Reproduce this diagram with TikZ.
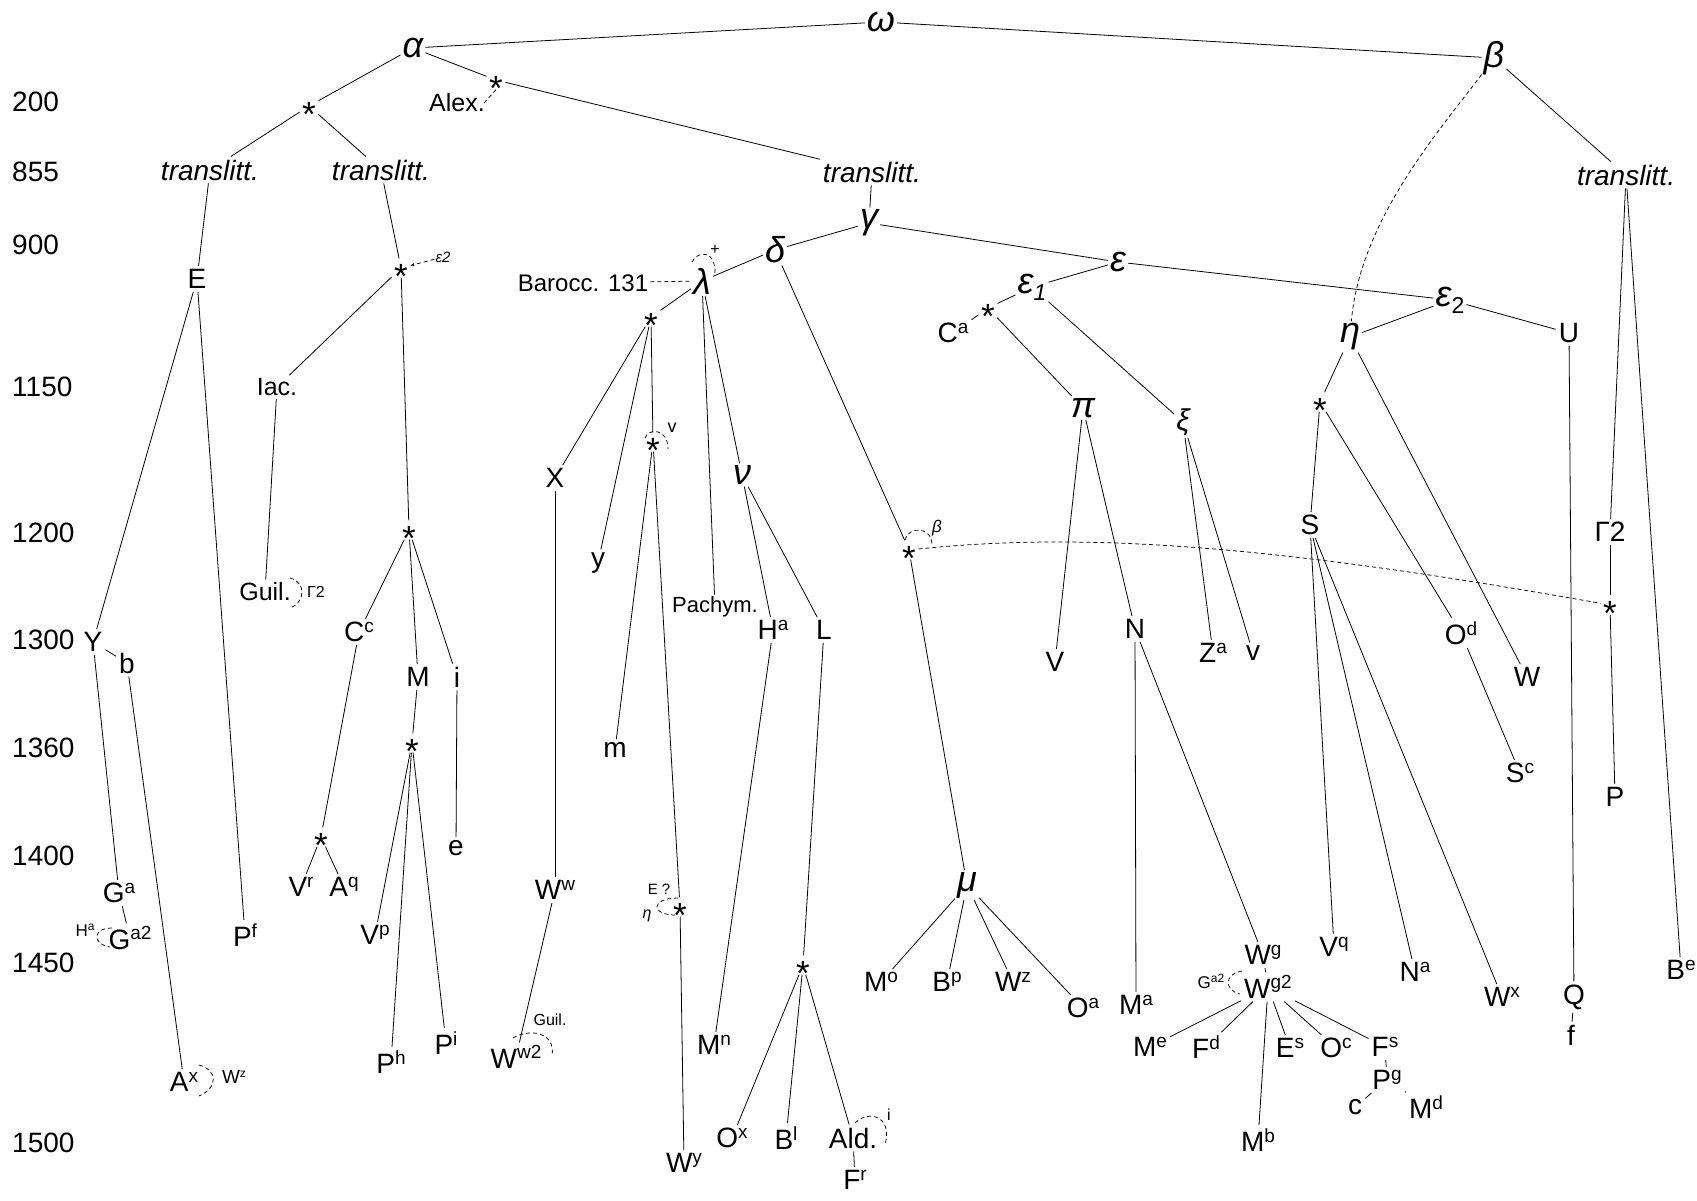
\documentclass[tikz,border=0pt]{standalone}
\usepackage{fontspec}
\setmainfont{Liberation Sans}
\usetikzlibrary{arrows.meta}
\newcommand{\SU}[1]{\raisebox{9.5pt}{\fontsize{19}{19}\selectfont #1}}
\newcommand{\SSU}[1]{\raisebox{6pt}{\fontsize{12}{12}\selectfont #1}}
\newcommand{\SB}[1]{\raisebox{-7pt}{\fontsize{23}{23}\selectfont #1}}
\newcommand{\STAR}{\raisebox{-20pt}{*}}
\tikzset{
 lab/.style={font=\fontsize{28}{30}\selectfont, inner sep=3pt},
 mid/.style={font=\fontsize{25}{27}\selectfont, inner sep=3pt},
 gr/.style={font=\fontsize{36}{38}\selectfont\itshape, inner sep=2pt},
 tl/.style={font=\fontsize{28}{30}\selectfont\itshape, inner sep=3pt},
 st/.style={font=\fontsize{35}{35}\selectfont, text height=7pt, text depth=7pt, inner sep=2.5pt},
 sm/.style={font=\fontsize{16}{16}\selectfont, inner sep=1pt},
 yr/.style={font=\fontsize{28}{30}\selectfont, anchor=west, inner sep=0pt},
 ln/.style={line width=0.8pt},
 dl/.style={line width=0.75pt, dash pattern=on 4pt off 3pt},
}
\begin{document}
\begin{tikzpicture}[x=1pt,y=-1pt]
\useasboundingbox (0,0) rectangle (1697,1200);
% years
\node[yr] (y200) at (12,102) {200};
\node[yr] (y855) at (12,172) {855};
\node[yr] (y900) at (12,245) {900};
\node[yr] (y1150) at (12,387) {1150};
\node[yr] (y1200) at (12,533) {1200};
\node[yr] (y1300) at (12,640) {1300};
\node[yr] (y1360) at (12,748) {1360};
\node[yr] (y1400) at (12,856) {1400};
\node[yr] (y1450) at (12,963) {1450};
\node[yr] (y1500) at (12,1143) {1500};
% top
\node[gr] (omega) at (881,22) {ω};
\node[gr] (alpha) at (413,48) {α};
\node[gr] (beta) at (1494,58) {β};
\node[st] (s1) at (309,106) {\STAR};
\node[mid] (alex) at (457,103) {Alex.};
\node[st] (s2) at (496,80) {\STAR};
\node[tl] (tr1) at (210,170) {translitt.};
\node[tl] (tr2) at (381,170) {translitt.};
\node[tl] (tr3) at (872,172) {translitt.};
\node[tl] (tr4) at (1626,175) {translitt.};
% left branch
\node[lab] (E) at (197,279) {E};
\node[st] (s3) at (401,268) {\STAR};
\node[sm,font=\fontsize{15}{15}\selectfont\itshape] (leps2) at (443,257) {ε2};
\node[mid] (iac) at (277,387) {Iac.};
\node[mid] (guil) at (265,592) {Guil.};
\node[sm] (lgam2) at (316,592) {Γ2};
\node[lab] (Y) at (93,642) {Y};
\node[lab] (b) at (127,663) {b};
\node[lab] (Pf) at (245,935) {P\SU{f}};
\node[lab] (Ga) at (119,893) {G\SU{a}};
\node[lab] (Ga2) at (130,938) {G\SU{a2}};
\node[sm,font=\fontsize{17}{17}\selectfont] (lHa) at (85,930) {H\SSU{a}};
\node[lab] (Ax) at (184,1082) {A\SU{x}};
\node[sm,font=\fontsize{19}{19}\selectfont] (lWz) at (234,1077) {W\SSU{z}};
\node[st] (s4) at (409,530) {\STAR};
\node[lab] (Cc) at (359,632) {C\SU{c}};
\node[lab] (M) at (418,677) {M};
\node[lab] (i) at (457,677) {i};
\node[st] (s5) at (412,743) {\STAR};
\node[lab] (e) at (456,848) {e};
\node[st] (s6) at (321,837) {\STAR};
\node[lab] (Vr) at (301,887) {V\SU{r}};
\node[lab] (Aq) at (344,887) {A\SU{q}};
\node[lab] (Vp) at (375,935) {V\SU{p}};
\node[lab] (Ph) at (391,1062) {P\SU{h}};
\node[lab] (Pi) at (446,1043) {P\SU{i}};
% lambda / delta
\node[font=\fontsize{24}{26}\selectfont, inner sep=2pt] (barocc) at (583,283) {Barocc. 131};
\node[gr] (lambda) at (702,281) {λ};
\node[sm] (lplus) at (715,250) {+};
\node[gr] (delta) at (775,250) {δ};
\node[gr] (gamma) at (869,223) {γ};
\node[st] (s7) at (651,317) {\STAR};
\node[lab] (X) at (555,478) {X};
\node[lab] (y) at (598,563) {y};
\node[st] (s8) at (653,442) {\STAR};
\node[sm,font=\fontsize{18}{18}\selectfont] (lv) at (672,428) {v};
\node[lab] (m) at (615,750) {m};
\node[font=\fontsize{22}{24}\selectfont, inner sep=2pt] (pachym) at (715,607) {Pachym.};
\node[gr] (nu) at (742,475) {ν};
\node[lab] (Ha2) at (773,630) {H\SU{a}};
\node[lab] (L) at (824,630) {L};
\node[lab] (Ww) at (555,890) {W\SU{w}};
\node[lab] (Ww2) at (516,1057) {W\SU{w2}};
\node[sm] (lguil) at (550,1020) {Guil.};
\node[st] (s9) at (680,907) {\STAR};
\node[sm,font=\fontsize{15}{15}\selectfont] (lEq) at (659,889) {E ?};
\node[sm,font=\fontsize{16}{16}\selectfont\itshape] (leta) at (647,916) {η};
\node[lab] (Wy) at (684,1163) {W\SU{y}};
\node[lab] (Mn) at (714,1045) {M\SU{n}};
\node[st] (s10) at (803,965) {\STAR};
\node[lab] (Ox) at (732,1138) {O\SU{x}};
\node[lab] (Bl) at (786,1138) {B\SU{l}};
\node[lab] (ald) at (853,1138) {Ald.};
\node[sm] (li) at (889,1115) {i};
\node[lab] (Fr) at (855,1180) {F\SU{r}};
\node[st] (sb) at (909,550) {\STAR};
\node[sm,font=\fontsize{17}{17}\selectfont\itshape] (lbeta) at (937,528) {β};
\node[gr] (mu) at (967,885) {μ};
\node[lab] (Mo) at (881,982) {M\SU{o}};
\node[lab] (Bp) at (947,982) {B\SU{p}};
\node[lab] (Wz) at (1013,982) {W\SU{z}};
\node[lab] (Oa) at (1083,1008) {O\SU{a}};
% epsilon
\node[gr] (eps) at (1118,262) {ε};
\node[gr] (eps1) at (1032,287) {ε\SB{1}};
\node[st] (s11) at (988,308) {\STAR};
\node[lab] (Ca) at (953,333) {C\SU{a}};
\node[gr] (pi) at (1083,408) {π};
\node[gr,font=\fontsize{30}{32}\selectfont\itshape] (xi) at (1183,422) {ξ};
\node[lab] (V) at (1055,662) {V};
\node[lab] (N) at (1135,629) {N};
\node[lab] (Za) at (1213,653) {Z\SU{a}};
\node[lab] (v) at (1253,653) {v};
\node[lab] (Ma) at (1136,1005) {M\SU{a}};
\node[lab] (Wg) at (1263,955) {W\SU{g}};
\node[lab] (Wg2) at (1268,987) {W\SU{g2}};
\node[sm,font=\fontsize{17}{17}\selectfont] (lGa2) at (1211,981) {G\SSU{a2}};
\node[lab] (Me) at (1150,1047) {M\SU{e}};
\node[lab] (Fd) at (1206,1047) {F\SU{d}};
\node[lab] (Mb) at (1258,1140) {M\SU{b}};
\node[lab] (Es) at (1290,1048) {E\SU{s}};
\node[lab] (Oc) at (1336,1048) {O\SU{c}};
\node[lab] (Fs) at (1385,1047) {F\SU{s}};
\node[lab] (Pg) at (1387,1080) {P\SU{g}};
\node[lab] (c) at (1355,1107) {c};
\node[lab] (Md) at (1426,1107) {M\SU{d}};
\node[gr] (eps2) at (1450,300) {ε\SB{\upshape 2}};
\node[gr] (eta) at (1350,337) {η};
\node[lab] (U) at (1569,333) {U};
\node[st] (s12) at (1320,402) {\STAR};
\node[lab] (S) at (1310,525) {S};
\node[lab] (Vq) at (1334,947) {V\SU{q}};
\node[lab] (Na) at (1415,972) {N\SU{a}};
\node[lab] (Wx) at (1502,997) {W\SU{x}};
\node[lab] (Od) at (1461,633) {O\SU{d}};
\node[lab] (Sc) at (1520,773) {S\SU{c}};
\node[lab] (W) at (1527,677) {W};
\node[lab] (Q) at (1574,997) {Q};
\node[lab] (f) at (1571,1035) {f};
\node[lab] (G2) at (1610,532) {Γ2};
\node[st] (s13) at (1610,605) {\STAR};
\node[lab] (P) at (1615,797) {P};
\node[lab] (Be) at (1681,970) {B\SU{e}};
% connectors
\draw[ln] (omega) -- (alpha);
\draw[ln] (omega) -- (beta);
\draw[ln] (alpha) -- (s1);
\draw[ln] (alpha) -- (s2);
\draw[ln] (s1) -- (tr1);
\draw[ln] (s1) -- (tr2);
\draw[ln] (s2) -- (tr3);
\draw[dl] ([xshift=-4pt]alex.east) -- (s2.south);
\draw[ln] (tr1) -- (E);
\draw[ln] (tr2) -- (s3);
\draw[ln] (s3) -- (iac);
\draw[ln] (s3) -- (s4);
\draw[ln] (iac) -- (guil);
\draw[ln] (E) -- (Y);
\draw[ln] (E) -- (Pf);
\draw[ln] (Y) -- (b);
\draw[ln] (Y) -- (Ga);
\draw[ln] (b) -- (Ax);
\draw[ln] (Ga) -- (Ga2);
\draw[ln] (s4) -- (Cc);
\draw[ln] (s4) -- (M);
\draw[ln] (s4) -- (i);
\draw[ln] (Cc) -- (s6);
\draw[ln] (s6) -- (Vr);
\draw[ln] (s6) -- (Aq);
\draw[ln] (M) -- (s5);
\draw[ln] (s5) -- (Vp);
\draw[ln] (s5) -- (Ph);
\draw[ln] (s5) -- (Pi);
\draw[ln] (i) -- (e);
\draw[ln] (tr3) -- (gamma);
\draw[ln] (gamma) -- (delta);
\draw[ln] (gamma) -- (eps);
\draw[ln] (delta) -- (lambda);
\draw[ln] (delta) -- (sb);
\draw[ln] (lambda) -- (s7);
\draw[ln] (lambda) -- (pachym);
\draw[ln] (lambda) -- (nu);
\draw[dl] (barocc) -- (lambda);
\draw[ln] (s7) -- (X);
\draw[ln] (s7) -- (y);
\draw[ln] (s7) -- (s8);
\draw[ln] (s8) -- (m);
\draw[ln] (s8) -- (s9);
\draw[ln] (X) -- (Ww);
\draw[ln] (Ww) -- (Ww2);
\draw[ln] (s9) -- (Wy);
\draw[ln] (nu) -- (Ha2);
\draw[ln] (nu) -- (L);
\draw[ln] (Ha2) -- (Mn);
\draw[ln] (L) -- (s10);
\draw[ln] (s10) -- (Ox);
\draw[ln] (s10) -- (Bl);
\draw[ln] (s10) -- (ald);
\draw[ln] (ald) -- (Fr);
\draw[ln] (sb) -- (mu);
\draw[ln] (mu) -- (Mo);
\draw[ln] (mu) -- (Bp);
\draw[ln] (mu) -- (Wz);
\draw[ln] (mu) -- (Oa);
\draw[ln] (eps) -- (eps1);
\draw[ln] (eps) -- (eps2);
\draw[ln] (eps1) -- (s11);
\draw[ln] (eps1) -- (xi);
\draw[ln] (s11) -- (Ca);
\draw[ln] (s11) -- (pi);
\draw[ln] (pi) -- (V);
\draw[ln] (pi) -- (N);
\draw[ln] (xi) -- (Za);
\draw[ln] (xi) -- (v);
\draw[ln] (N) -- (Ma);
\draw[ln] (N) -- (Wg);
\draw[ln] (Wg) -- (Wg2);
\draw[ln] (Wg2) -- (Me);
\draw[ln] (Wg2) -- (Fd);
\draw[ln] (Wg2) -- (Mb);
\draw[ln] (Wg2) -- (Es);
\draw[ln] (Wg2) -- (Oc);
\draw[ln] (Wg2) -- (Fs);
\draw[ln] (Fs) -- (Pg);
\draw[ln] (Pg) -- (c);
\draw[ln] (Pg) -- (Md.north west);
\draw[ln] (eps2) -- (eta);
\draw[ln] (eps2) -- (U);
\draw[ln] (eta) -- (s12);
\draw[ln] (eta) -- (W);
\draw[ln] (s12) -- (S);
\draw[ln] (s12) -- (Od);
\draw[ln] (S) -- (Vq);
\draw[ln] (S) -- (Na);
\draw[ln] (S) -- (Wx);
\draw[ln] (Od) -- (Sc);
\draw[ln] (U) -- (Q);
\draw[ln] (Q) -- (f);
\draw[ln] (beta) -- (tr4);
\draw[ln] (tr4) -- (G2);
\draw[ln] (tr4) -- (Be);
\draw[ln] (G2) -- (s13);
\draw[ln] (s13) -- (P);
% dashed relations
\draw[dl] (beta) .. controls (1440,130) and (1360,220) .. (eta);
\draw[dl] (sb) .. controls (1100,530) and (1300,550) .. (s13);
\draw[dl,-{Stealth[length=4pt,width=3pt]}] (leps2) -- (s3);
% small contamination arcs
\draw[dl] (692,262) .. controls (698,250) and (716,250) .. (715,274);
\draw[dl] (290,578) .. controls (306,582) and (306,602) .. (290,608);
\draw[dl] (112,928) .. controls (92,928) and (92,944) .. (110,947);
\draw[dl] (199,1065) .. controls (218,1070) and (218,1088) .. (199,1096);
\draw[dl] (645,438) .. controls (648,428) and (668,428) .. (668,449);
\draw[dl] (513,1038) .. controls (530,1028) and (556,1032) .. (552,1056);
\draw[dl] (678,898) .. controls (650,898) and (650,916) .. (678,915);
\draw[dl] (855,1123) .. controls (868,1110) and (893,1115) .. (885,1145);
\draw[dl] (905,540) .. controls (908,526) and (932,526) .. (932,545);
\draw[dl] (1242,971) .. controls (1224,974) and (1224,990) .. (1240,994);
\end{tikzpicture}
\end{document}
